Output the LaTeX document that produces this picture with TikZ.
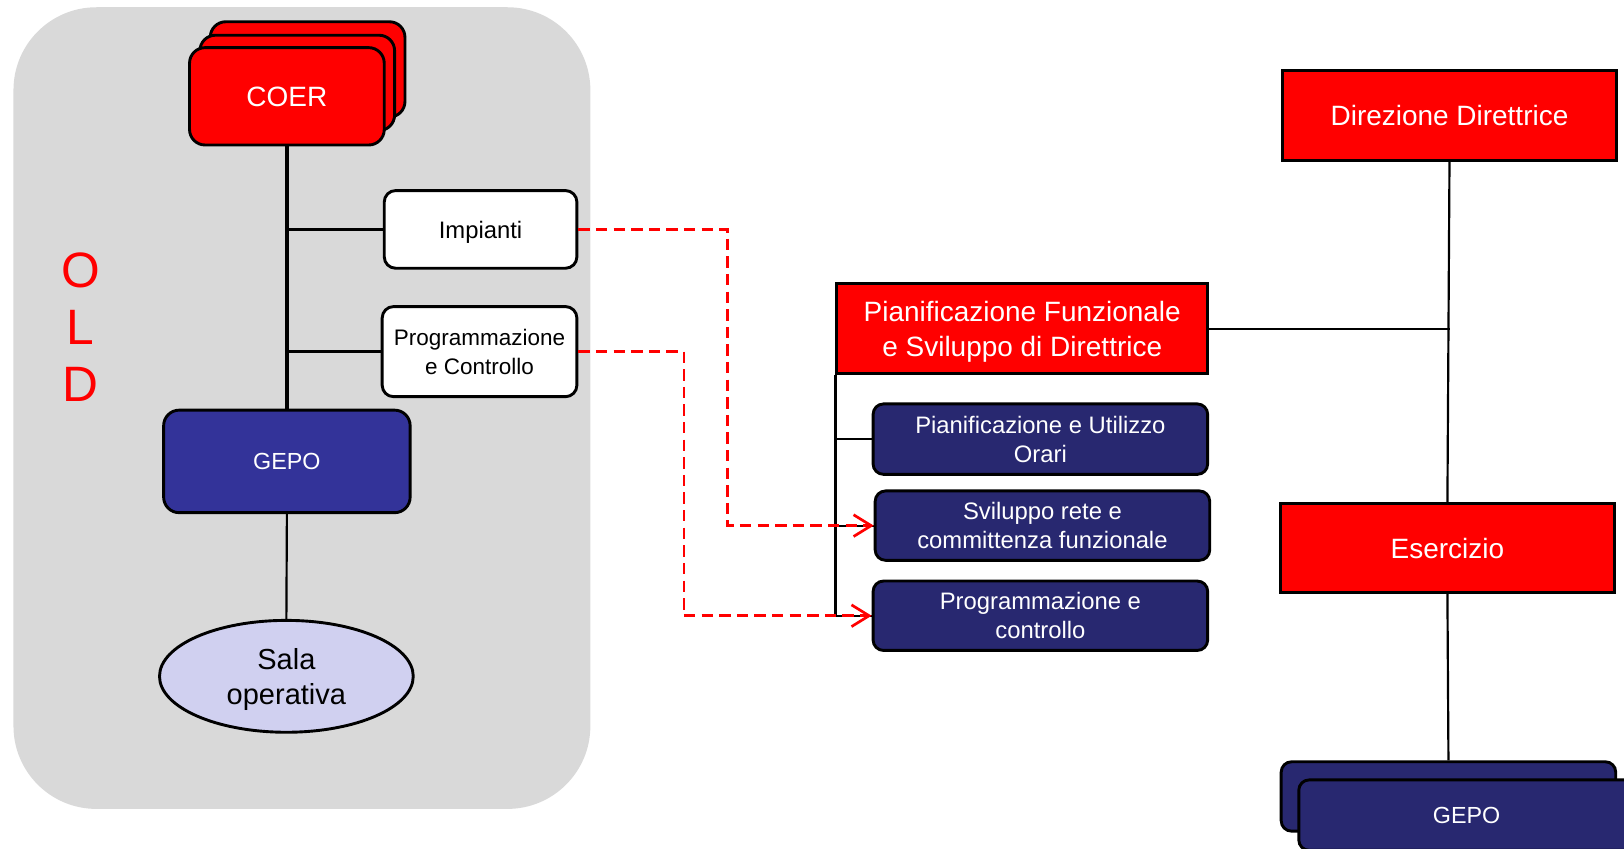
\documentclass[tikz,border=0pt]{standalone}
\usepackage{fontspec}
\setmainfont{Liberation Sans}
\usetikzlibrary{arrows.meta,shapes.geometric}
\definecolor{panelgray}{HTML}{D9D9D9}
\definecolor{boxred}{HTML}{FF0000}
\definecolor{navyA}{HTML}{333399}
\definecolor{navyB}{HTML}{282870}
\definecolor{lav}{HTML}{D0D0F0}
\definecolor{dashred}{HTML}{FF0000}
\tikzset{
  base/.style={draw=black, line width=2.8pt, inner sep=0pt, align=center, anchor=center, text depth=0pt},
  redrect/.style={base, fill=boxred, text=white, font=\fontsize{27}{33}\selectfont},
  redround/.style={base, fill=boxred, text=white, rounded corners=15pt, font=\fontsize{27}{33}\selectfont},
  whitebox/.style={base, fill=white, text=black, rounded corners=11pt},
  navyleft/.style={base, fill=navyA, text=white, rounded corners=15pt, font=\fontsize{22.5}{28}\selectfont},
  navybox/.style={base, fill=navyB, text=white, rounded corners=10pt, font=\fontsize{23}{28}\selectfont},
  thickline/.style={draw=black, line width=3.5pt},
  midline/.style={draw=black, line width=2.6pt},
  thinline/.style={draw=black, line width=2.1pt},
  reddash/.style={draw=dashred, line width=2.6pt, dash pattern=on 11pt off 6pt,
     -{Straight Barb[length=17pt, width=21pt, line width=2.6pt]}},
}
\begin{document}
\begin{tikzpicture}[x=1pt, y=-1pt]
\useasboundingbox (0,0) rectangle (1568,818.8);
% gray panel
\fill[panelgray, rounded corners=80pt] (13,7) rectangle (570,781);

% COER stack
\node[redround, minimum width=188pt, minimum height=92pt] (coer3) at (297,67) {};
\node[redround, minimum width=188pt, minimum height=92pt] (coer2) at (287,80) {};
\node[redround, minimum width=188pt, minimum height=94pt] (coer) at (277,93) {COER};

\node[whitebox, minimum width=186pt, minimum height=75pt, font=\fontsize{23}{28}\selectfont] (imp) at (464,221.5) {Impianti};
\node[whitebox, minimum width=188pt, minimum height=87pt, font=\fontsize{21.7}{28}\selectfont] (prog) at (463,339.5) {Programmazione\\e Controllo};

\node[navyleft, minimum width=238pt, minimum height=99pt] (gepoL) at (277,445.5) {GEPO};
\node[base, ellipse, fill=lav, text=black, minimum width=245pt, minimum height=108pt, font=\fontsize{28}{34}\selectfont] (sala) at (276.5,653) {Sala\\operativa};

\node[text=boxred, align=center, inner sep=0pt, text depth=0pt, font=\fontsize{48}{55}\selectfont] (old) at (78,316) {O\\L\\D};

% left connectors
\draw[thickline] (coer.south) -- (gepoL.north);
\draw[midline] (coer.south |- imp.west) -- (imp.west);
\draw[midline] (coer.south |- prog.west) -- (prog.west);
\draw[thinline] (gepoL.south) -- (sala.north);

% right side
\node[redrect, minimum width=323pt, minimum height=87pt] (dir) at (1399.5,111.5) {Direzione Direttrice};
\node[redrect, minimum width=358pt, minimum height=87pt] (pf) at (987,317.5) {Pianificazione Funzionale\\e Sviluppo di Direttrice};
\node[redrect, minimum width=323pt, minimum height=86pt] (eserc) at (1397.5,529) {Esercizio};

\node[navybox, minimum width=323pt, minimum height=68pt] (b1) at (1004.5,424) {Pianificazione e Utilizzo\\Orari};
\node[navybox, minimum width=323pt, minimum height=67pt] (b2) at (1006.5,507.5) {Sviluppo rete e\\committenza funzionale};
\node[navybox, minimum width=323pt, minimum height=67pt] (b3) at (1004.5,594.5) {Programmazione e\\controllo};

\node[navybox, minimum width=323pt, minimum height=67pt] (gepoRb) at (1398.5,769) {};
\node[navybox, minimum width=324pt, minimum height=68pt, font=\fontsize{22.5}{28}\selectfont] (gepoR) at (1416,787) {GEPO};

% right connectors
\draw[thinline] (dir.south) -- (eserc.north);
\draw[thinline] (pf.east) -- (pf.east -| dir.south);
\draw[thinline] (eserc.south) -- (gepoRb.north);
\draw[thinline] (pf.south west) -- (pf.south west |- b3.west) -- (b3.west);
\draw[thinline] (pf.south west |- b1.west) -- (b1.west);
\draw[thinline] (pf.south west |- b2.west) -- (b2.west);

% red dashed links
\draw[reddash] (imp.east) -- ++(144,0) |- (b2.west);
\draw[reddash] (prog.east) -- ++(102,0) |- (b3.west);
\end{tikzpicture}
\end{document}
